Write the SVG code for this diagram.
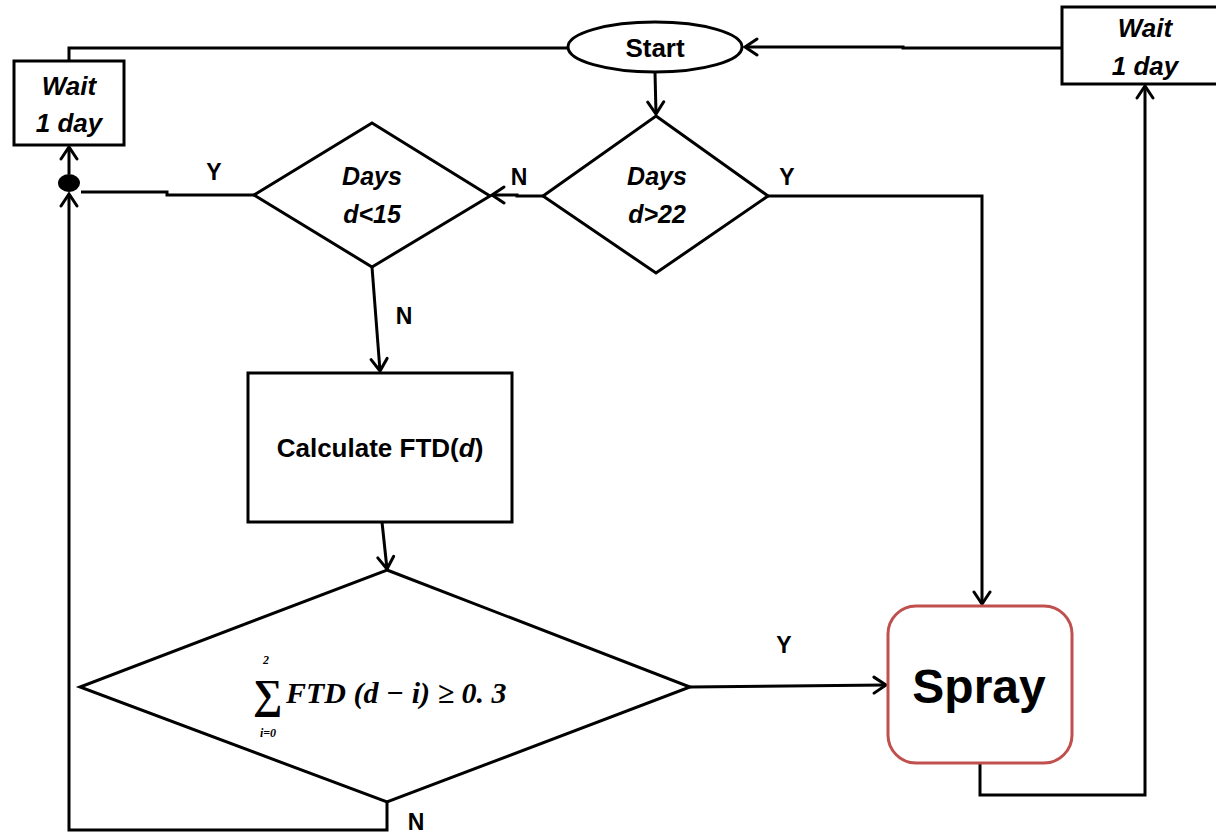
<svg xmlns="http://www.w3.org/2000/svg" width="1216" height="836" viewBox="0 0 1216 836">
<style>
.shape{fill:#fff;stroke:#000;stroke-width:3}
.conn{fill:none;stroke:#000;stroke-width:3}
.lbl{font-family:"Liberation Sans",Arial,sans-serif;font-weight:bold;font-size:23px;fill:#000;text-anchor:middle}
.ital{font-family:"Liberation Sans",Arial,sans-serif;font-weight:bold;font-style:italic;font-size:25px;fill:#000;text-anchor:middle}
.math{font-family:"Liberation Serif","Times New Roman",serif;font-weight:bold;font-style:italic;fill:#000}
</style>
<defs>
<marker id="arr" viewBox="0 0 20 20" refX="17" refY="10" markerWidth="20" markerHeight="20" markerUnits="userSpaceOnUse" orient="auto">
<path d="M5,2 L17,10 L5,18" fill="none" stroke="#000" stroke-width="3" stroke-linecap="round"/>
</marker>
</defs>
<rect width="1216" height="836" fill="#fff"/>
<g id="connectors">
<line class="conn" x1="655" y1="72" x2="656" y2="114" marker-end="url(#arr)"/>
<path class="conn" d="M543,196 L517,196 L517,195 L492,195" marker-end="url(#arr)"/>
<path class="conn" d="M254,195 L167,195 L167,192 L81,192"/>
<line class="conn" x1="69" y1="174" x2="69" y2="147" marker-end="url(#arr)"/>
<path class="conn" d="M69,61 L69,48 L568,48"/>
<path class="conn" d="M1062,48 L903,48 L903,47 L745,47" marker-end="url(#arr)"/>
<path class="conn" d="M768,196 L982,196 L982,604" marker-end="url(#arr)"/>
<line class="conn" x1="372" y1="267" x2="380" y2="371" marker-end="url(#arr)"/>
<line class="conn" x1="382" y1="522" x2="387" y2="569" marker-end="url(#arr)"/>
<line class="conn" x1="690" y1="687" x2="886" y2="685" marker-end="url(#arr)"/>
<path class="conn" d="M387,802 L387,830 L69,830 L69,194" marker-end="url(#arr)"/>
<path class="conn" d="M980,763 L980,795 L1145,795 L1145,86" marker-end="url(#arr)"/>
<ellipse cx="69" cy="183" rx="11" ry="9" fill="#000"/>
<text class="lbl" x="519" y="185">N</text>
<text class="lbl" x="787" y="185">Y</text>
<text class="lbl" x="214" y="180">Y</text>
<text class="lbl" x="404" y="324">N</text>
<text class="lbl" x="784" y="653">Y</text>
<text class="lbl" x="416" y="830">N</text>
</g>
<g id="start">
<ellipse class="shape" cx="655" cy="47" rx="87" ry="25"/>
<text class="lbl" x="655" y="57" style="font-size:26px">Start</text>
</g>
<g id="wait-left">
<rect class="shape" x="14" y="61" width="110" height="84"/>
<text class="ital" x="69" y="95" style="font-size:26px">Wait</text>
<text class="ital" x="69" y="132" style="font-size:26px">1 day</text>
</g>
<g id="wait-right">
<rect class="shape" x="1062" y="7" width="170" height="77"/>
<text class="ital" x="1145" y="37" style="font-size:26px">Wait</text>
<text class="ital" x="1145" y="75" style="font-size:26px">1 day</text>
</g>
<g id="dec-d22">
<polygon class="shape" points="656,116 768,196 656,273 543,196"/>
<text class="ital" x="657" y="185">Days</text>
<text class="ital" x="657" y="223">d&gt;22</text>
</g>
<g id="dec-d15">
<polygon class="shape" points="372,123 490,196 372,267 254,195"/>
<text class="ital" x="372" y="185">Days</text>
<text class="ital" x="372" y="223">d&lt;15</text>
</g>
<g id="calc">
<rect class="shape" x="248" y="373" width="264" height="149"/>
<text class="lbl" x="380" y="457" style="font-size:26px">Calculate FTD(<tspan font-style="italic">d</tspan>)</text>
</g>
<g id="dec-ftd">
<polygon class="shape" points="387,570 690,687 387,802 80,687"/>
<text class="math" x="253" y="708" style="font-size:41px;font-style:normal">∑</text>
<text class="math" x="266" y="664" style="font-size:12px;text-anchor:middle">2</text>
<text class="math" x="268" y="737" style="font-size:12px;text-anchor:middle">i=0</text>
<text class="math" x="286" y="703" style="font-size:30px">FTD (d − i) ≥ 0. 3</text>
</g>
<g id="spray">
<rect x="888" y="606" width="184" height="157" rx="28" ry="28" fill="#fff" stroke="#c0504d" stroke-width="3"/>
<text class="lbl" x="979" y="703" style="font-size:48px">Spray</text>
</g>
</svg>
